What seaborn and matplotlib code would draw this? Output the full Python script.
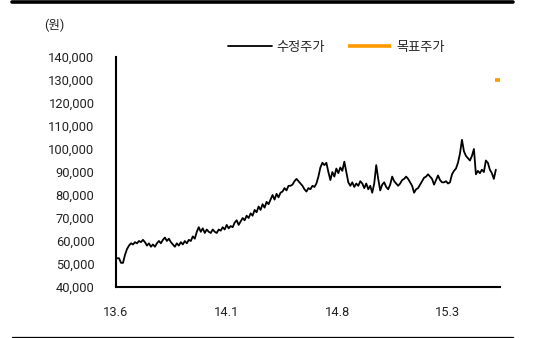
import matplotlib
matplotlib.use("Agg")
import matplotlib.pyplot as plt
import matplotlib.ticker as mticker
from matplotlib.lines import Line2D
import numpy as np
import pandas as pd
import seaborn as sns

# Adjusted close, thousand won, sampled about every 4 days (Jun 2013 - Jun 2015)
price_k = [
    52.5, 52.5, 50.5, 50.5, 54, 56.5, 58, 59, 58.5, 59.5,
    59, 60, 59.5, 60.5, 59.5, 58, 59, 57.5, 58.5, 57.5,
    59, 60, 59, 60.5, 61.5, 60, 61, 59.5, 58.5, 57.5,
    59, 58, 59.5, 58.5, 60, 59, 60.5, 60, 62, 61,
    64, 66, 64, 65.5, 63.5, 65, 64, 63.5, 65, 64,
    63.5, 65, 64.5, 66, 65, 67, 65.5, 66.5, 66, 68,
    69, 67, 68.5, 70, 69, 71, 70, 72, 71, 73.5,
    72.5, 75, 73.5, 76, 74.5, 77, 76, 78, 80, 78,
    80.5, 79, 81, 81.5, 83, 82, 84, 84, 84.5, 86,
    87, 86, 85, 84, 82.5, 81.5, 83, 82.5, 84, 83.5,
    85, 88, 92, 94, 93, 94, 90, 86.5, 90, 88,
    91.5, 89.5, 92, 90.5, 94.5, 90, 85.5, 84, 85.5, 83.5,
    85, 84, 86, 85, 83, 85, 82.5, 84, 81, 85,
    93, 87, 82, 84.5, 85.5, 83.5, 82.5, 84.5, 88, 86,
    85, 84, 85, 86.5, 87, 88, 87, 85.5, 84, 81,
    82.5, 83, 84.5, 86, 87.5, 88, 89, 88, 87, 84.5,
    86.5, 88.5, 86.5, 85.5, 85.5, 86, 85, 85.5, 89, 90.5,
    91.5, 94, 98, 104, 99, 97, 96, 95, 97, 100,
    89, 90.5, 89.5, 91, 90, 95, 94, 91, 89.5, 87,
    91,
]
price_start = "2013-06-03"
price_end = "2015-06-03"

# Target price (won)
target_dates = ["2015-06-01", "2015-06-12"]
target_values = [130000, 130000]

tick_dates = ["2013-06-01", "2014-01-01", "2014-08-01", "2015-03-01"]
tick_labels = ["13.6", "14.1", "14.8", "15.3"]
y_ticks = [40000, 50000, 60000, 70000, 80000, 90000, 100000,
           110000, 120000, 130000, 140000]

price_df = pd.DataFrame({
    "date": pd.date_range(price_start, price_end, periods=len(price_k)),
    "price": np.array(price_k) * 1000,
})
target_df = pd.DataFrame({"date": pd.to_datetime(target_dates),
                          "target": target_values})

sns.set_theme(style="white")
plt.rcParams["font.family"] = ["Roboto", "Noto Sans CJK KR", "DejaVu Sans"]

W, H = 542, 338
fig = plt.figure(figsize=(W / 100, H / 100), dpi=100)
ax = fig.add_axes([116 / W, 1 - 287 / H, (500 - 116) / W, (287 - 57) / H])

sns.lineplot(data=price_df, x="date", y="price", ax=ax, color="black",
             lw=1.3, label="수정주가")
sns.lineplot(data=target_df, x="date", y="target", ax=ax, color="#FF9900",
             lw=2.6, label="목표주가", solid_capstyle="butt")

ax.set_xlim(pd.Timestamp("2013-06-01"), pd.Timestamp("2015-06-11"))
ax.set_ylim(40000, 140000)
ax.set_xticks(pd.to_datetime(tick_dates))
ax.set_xticklabels(tick_labels)
ax.set_yticks(y_ticks)
ax.yaxis.set_major_formatter(mticker.FuncFormatter(lambda v, p: f"{v:,.0f}"))
ax.set_xlabel("")
ax.set_ylabel("")

for side in ("top", "right"):
    ax.spines[side].set_visible(False)
for side in ("left", "bottom"):
    ax.spines[side].set_color("black")
    ax.spines[side].set_linewidth(1.5)

ax.tick_params(axis="both", direction="in", length=4, width=1.2,
               color="black", labelsize=9.3, labelcolor="#222222")
ax.tick_params(axis="y", pad=15.5)
ax.tick_params(axis="x", pad=14)

ax.legend(loc="center left", bbox_to_anchor=(228 / W, 1 - 47 / H),
          bbox_transform=fig.transFigure, ncol=2, frameon=False,
          fontsize=9.5, handlelength=3.3, handletextpad=0.4,
          columnspacing=1.7, borderpad=0, borderaxespad=0)

fig.text(44 / W, 1 - 25 / H, "(원)", fontsize=9, color="#222222",
         ha="left", va="center")

# Frame rules across the top and bottom of the figure
fig.add_artist(Line2D([12 / W, 513 / W], [1 - 1.5 / H] * 2, color="black",
                      lw=2.6, transform=fig.transFigure))
fig.add_artist(Line2D([12 / W, 513 / W], [1 - 336.5 / H] * 2, color="black",
                      lw=0.9, transform=fig.transFigure))

fig.savefig("out.png", dpi=100)
